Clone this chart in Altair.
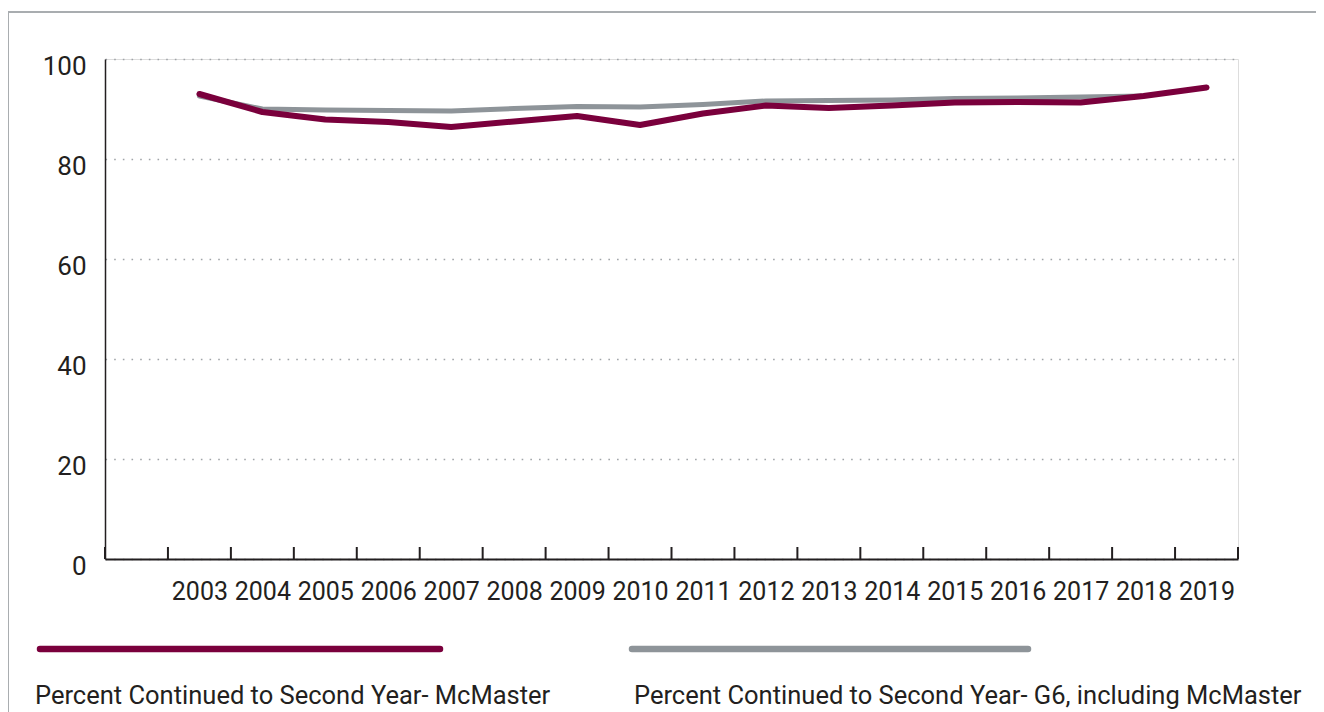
import altair as alt
import pandas as pd

years = list(range(2003, 2020))
mcmaster = [93.0, 89.4, 87.9, 87.4, 86.4, 87.5, 88.6, 86.8, 89.1, 90.7, 90.2, 90.7, 91.3, 91.4, 91.3, 92.6, 94.3]
g6 = [92.6, 90.0, 89.8, 89.7, 89.6, 90.1, 90.5, 90.4, 90.9, 91.6, 91.7, 91.8, 92.1, 92.2, 92.4, 92.6, None]
series_names = ["Percent Continued to Second Year- McMaster",
                "Percent Continued to Second Year- G6, including McMaster"]
series_colors = ["#7A003C", "#8E9499"]
y_ticks = [0, 20, 40, 60, 80, 100]

rows = []
for y, a, b in zip(years, mcmaster, g6):
    rows.append({"year": y, "value": a, "series": series_names[0]})
    if b is not None:
        rows.append({"year": y, "value": b, "series": series_names[1]})
df = pd.DataFrame(rows)

edges = [years[0] - 1.5] + [y + 0.5 for y in [years[0] - 1] + years]
tick_df = pd.DataFrame({"edge": edges})

FONT = "Roboto"
TXT = "#231F20"

xscale = alt.Scale(domain=[years[0] - 1.5, years[-1] + 0.5], nice=False, zero=False)
yscale = alt.Scale(domain=[0, 100], nice=False)
cscale = alt.Scale(domain=series_names, range=series_colors)

base = alt.Chart(df).encode(
    x=alt.X("year:Q", scale=xscale,
            axis=alt.Axis(values=years, format="d", title=None, tickSize=0, grid=False,
                          labelFontSize=25, labelFont=FONT, labelColor=TXT, labelPadding=20,
                          domainColor=TXT, domainWidth=2, labelFlush=False, labelOverlap=False)),
    y=alt.Y("value:Q", scale=yscale,
            axis=alt.Axis(values=y_ticks, title=None, tickSize=0, grid=True,
                          gridColor="#A0A4A8", gridDash=[1.6, 7.07], gridWidth=1.6,
                          labelFontSize=26, labelFont=FONT, labelColor=TXT, labelPadding=19,
                          labelOffset=7, domainColor=TXT, domainWidth=1.5)),
    color=alt.Color("series:N", scale=cscale, legend=None),
)

line_g6 = base.transform_filter(alt.datum.series == series_names[1]).mark_line(
    strokeWidth=5, strokeCap="round", strokeJoin="round")
line_mc = base.transform_filter(alt.datum.series == series_names[0]).mark_line(
    strokeWidth=6, strokeCap="round", strokeJoin="round")

ticks = alt.Chart(tick_df).mark_rule(color=TXT, strokeWidth=2).encode(
    x=alt.X("edge:Q", scale=xscale), y=alt.value(488), y2=alt.value(500))

legend_layers = []
leg_pos = [(-65, 335, -70), (527, 923, 529)]
for name, (x0, x1, tx) in zip(series_names, leg_pos):
    ldf = pd.DataFrame({"series": [name]})
    legend_layers.append(alt.Chart(ldf).mark_rule(strokeWidth=6.5, strokeCap="round").encode(
        x=alt.value(x0), x2=alt.value(x1), y=alt.value(590),
        color=alt.Color("series:N", scale=cscale, legend=None)))
    legend_layers.append(alt.Chart(ldf).mark_text(
        align="left", baseline="alphabetic", fontSize=25.5, font=FONT, color=TXT).encode(
        text="series:N", x=alt.value(tx), y=alt.value(645)))

one = pd.DataFrame({"a": [0]})
frame_top = alt.Chart(one).mark_rule(color="#A9ADB0", strokeWidth=2).encode(
    x=alt.value(-97), x2=alt.value(1211), y=alt.value(-47))
frame_left = alt.Chart(one).mark_rule(color="#A9ADB0", strokeWidth=2).encode(
    x=alt.value(-97), y=alt.value(-47), y2=alt.value(660))

chart = alt.layer(frame_top, frame_left, line_g6, line_mc, ticks, *legend_layers).properties(
    width=1133, height=500,
    autosize=alt.AutoSizeParams(type="none"),
    padding={"left": 97, "top": 51, "right": 78, "bottom": 153},
).configure_view(stroke=None).configure(font=FONT, background="white")

chart.save("out.html", embed_options={"renderer": "svg", "actions": False})
